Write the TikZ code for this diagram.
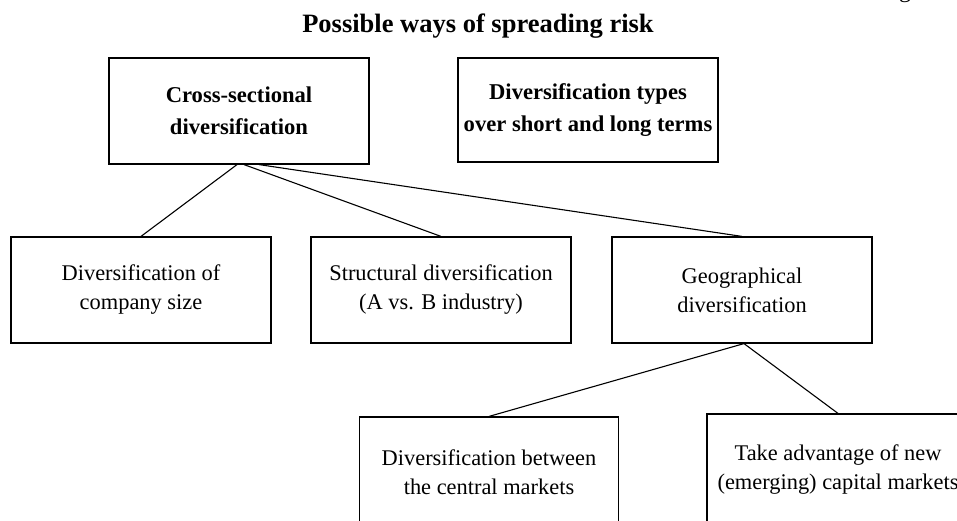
\documentclass[tikz,border=0pt]{standalone}
\usepackage{fontspec}
\setmainfont{Liberation Serif}
\begin{document}
\begin{tikzpicture}[x=1pt,y=-1pt,
  box/.style={draw, line width=1.2pt, minimum width=260pt, minimum height=106pt,
    align=center, inner sep=2pt, font=\fontsize{22.4}{29}\selectfont},
  bbox/.style={box, font=\fontsize{22.6}{32}\selectfont\bfseries},
  link/.style={line width=1.1pt}]
\useasboundingbox (0,0) rectangle (957,521);
\node[font=\fontsize{26.5}{30}\selectfont\bfseries, anchor=base] (title) at (478,33) {Possible ways of spreading risk};
\node[font=\fontsize{24}{24}\selectfont, anchor=base] (frag) at (905,-2) {g};
\node[bbox] (A) at (239,111) {Cross-sectional\\diversification};
\node[bbox, minimum height=104pt] (B) at (588,110) {Diversification types\\over short and long terms};
\node[box] (C) at (141,290) {Diversification of\\company size};
\node[box] (D) at (441,290) {Structural diversification\\(A vs. B industry)};
\node[box] (E) at (742,290) {Geographical\\diversification};
\node[box, minimum width=259pt, minimum height=110pt] (F) at (489,472) {Diversification between\\the central markets};
\node[box, minimum width=262pt, minimum height=112pt] (G) at (838,470) {Take advantage of new\\(emerging) capital markets};
\draw[link] ([xshift=-2pt]A.south) -- (C.north);
\draw[link] ([xshift=5pt]A.south) -- (D.north);
\draw[link] ([xshift=20pt]A.south) -- (E.north);
\draw[link] ([xshift=2pt]E.south) -- (F.north);
\draw[link] ([xshift=2pt]E.south) -- (G.north);
\end{tikzpicture}
\end{document}
